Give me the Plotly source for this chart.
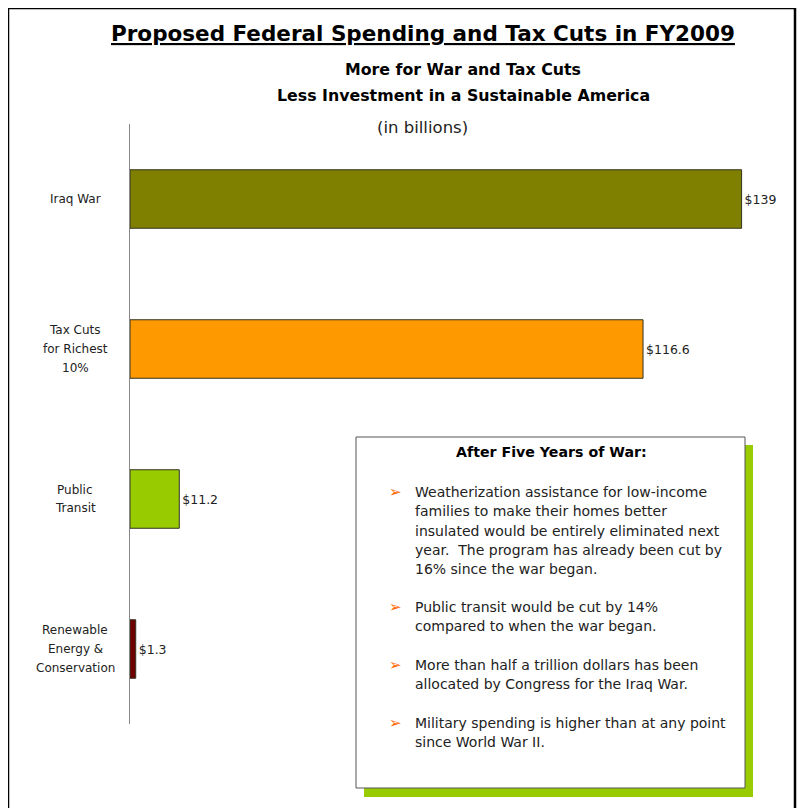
import plotly.graph_objects as go

categories = ["Iraq War", "Tax Cuts<br>for Richest<br>10%", "Public<br>Transit", "Renewable<br>Energy &<br>Conservation"]
values = [139, 116.6, 11.2, 1.3]
value_labels = ["$139", "$116.6", "$11.2", "$1.3"]
bar_colors = ["#7f7f00", "#ff9900", "#99cc00", "#6e0000"]

title = "Proposed Federal Spending and Tax Cuts in FY2009"
subtitle = ["More for War and Tax Cuts", "Less Investment in a Sustainable America"]
unit_note = "(in billions)"
box_title = "After Five Years of War:"
bullets = [
    ["Weatherization assistance for low-income", "families to make their homes better",
     "insulated would be entirely eliminated next", "year.  The program has already been cut by",
     "16% since the war began."],
    ["Public transit would be cut by 14%", "compared to when the war began."],
    ["More than half a trillion dollars has been", "allocated by Congress for the Iraq War."],
    ["Military spending is higher than at any point", "since World War II."],
]

W, H = 805, 808
OFF = 8  # page offset of the figure in the screenshot
# plot area in screenshot pixels
SL, SR, ST, SB = 130, 790, 124, 724
L, R, T, B = SL - OFF, SR - OFF, ST - OFF, SB - OFF
FONT = "DejaVu Sans"


def px(x):
    return (x - SL) / (SR - SL)


def py(y):
    return (SB - y) / (SB - ST)


ypos = list(range(len(categories)))

fig = go.Figure()
fig.add_trace(go.Bar(
    x=values, y=ypos, orientation="h",
    marker=dict(color=bar_colors, line=dict(color="#333322", width=1)),
    width=0.39,
    text=value_labels, textposition="outside", cliponaxis=False,
    textfont=dict(family=FONT, size=12.5, color="#222222"),
    hoverinfo="skip",
))

shapes = []
shapes.append(dict(type="rect", xref="paper", yref="paper", x0=px(8), x1=px(795), y0=py(8), y1=py(830),
                   line=dict(color="black", width=2.5), fillcolor="rgba(0,0,0,0)", layer="below"))
shapes.append(dict(type="rect", xref="paper", yref="paper", x0=px(364), x1=px(753), y0=py(445), y1=py(797),
                   line=dict(width=0), fillcolor="#99cc00", layer="above"))
shapes.append(dict(type="rect", xref="paper", yref="paper", x0=px(356), x1=px(745), y0=py(437), y1=py(788),
                   line=dict(color="#555555", width=1), fillcolor="white", layer="above"))

ann = []
ann.append(dict(text="<b>" + title + "</b>", x=px(423), y=py(33), xref="paper", yref="paper",
                showarrow=False, xanchor="center", yanchor="middle",
                font=dict(family=FONT, size=21.5, color="black", lineposition="under")))
for i, s in enumerate(subtitle):
    ann.append(dict(text="<b>" + s + "</b>", x=px(463), y=py(70 + 25 * i), xref="paper", yref="paper",
                    showarrow=False, xanchor="center", yanchor="middle",
                    font=dict(family=FONT, size=15.8, color="black")))
ann.append(dict(text=unit_note, x=px(422), y=py(127), xref="paper", yref="paper",
                showarrow=False, xanchor="center", yanchor="middle",
                font=dict(family=FONT, size=16.5, color="#222222")))
# category labels (centered lines)
for i, c in enumerate(categories):
    lines = c.split("<br>")
    n = len(lines)
    for k, line in enumerate(lines):
        yy = i + (k - (n - 1) / 2) * 18.7 / 150.0
        ann.append(dict(text=line, x=px(75), y=yy, xref="paper", yref="y",
                        showarrow=False, xanchor="center", yanchor="middle",
                        font=dict(family=FONT, size=12, color="#222222")))
ann.append(dict(text="<b>" + box_title + "</b>", x=px(551), y=py(452), xref="paper", yref="paper",
                showarrow=False, xanchor="center", yanchor="middle",
                font=dict(family=FONT, size=14.2, color="black")))
starts = [492, 607, 665, 723]
for b, y0 in zip(bullets, starts):
    ann.append(dict(text="➢", x=px(395), y=py(y0), xref="paper", yref="paper",
                    showarrow=False, xanchor="center", yanchor="middle",
                    font=dict(family=FONT, size=15, color="#ff6600")))
    for j, line in enumerate(b):
        ann.append(dict(text=line, x=px(413), y=py(y0 + 19.3 * j), xref="paper", yref="paper",
                        showarrow=False, xanchor="left", yanchor="middle",
                        font=dict(family=FONT, size=14, color="#222222")))

fig.update_layout(
    width=W, height=H,
    margin=dict(l=L, r=W - R, t=T, b=H - B, pad=0),
    paper_bgcolor="white", plot_bgcolor="white",
    showlegend=False,
    xaxis=dict(range=[0, 150], visible=False, fixedrange=True),
    yaxis=dict(range=[3.5, -0.5], showticklabels=False, ticks="", showgrid=False, zeroline=False,
               showline=True, linecolor="#888888", linewidth=1, fixedrange=True),
    shapes=shapes, annotations=ann,
    font=dict(family=FONT),
)

fig.write_html("out.html")
